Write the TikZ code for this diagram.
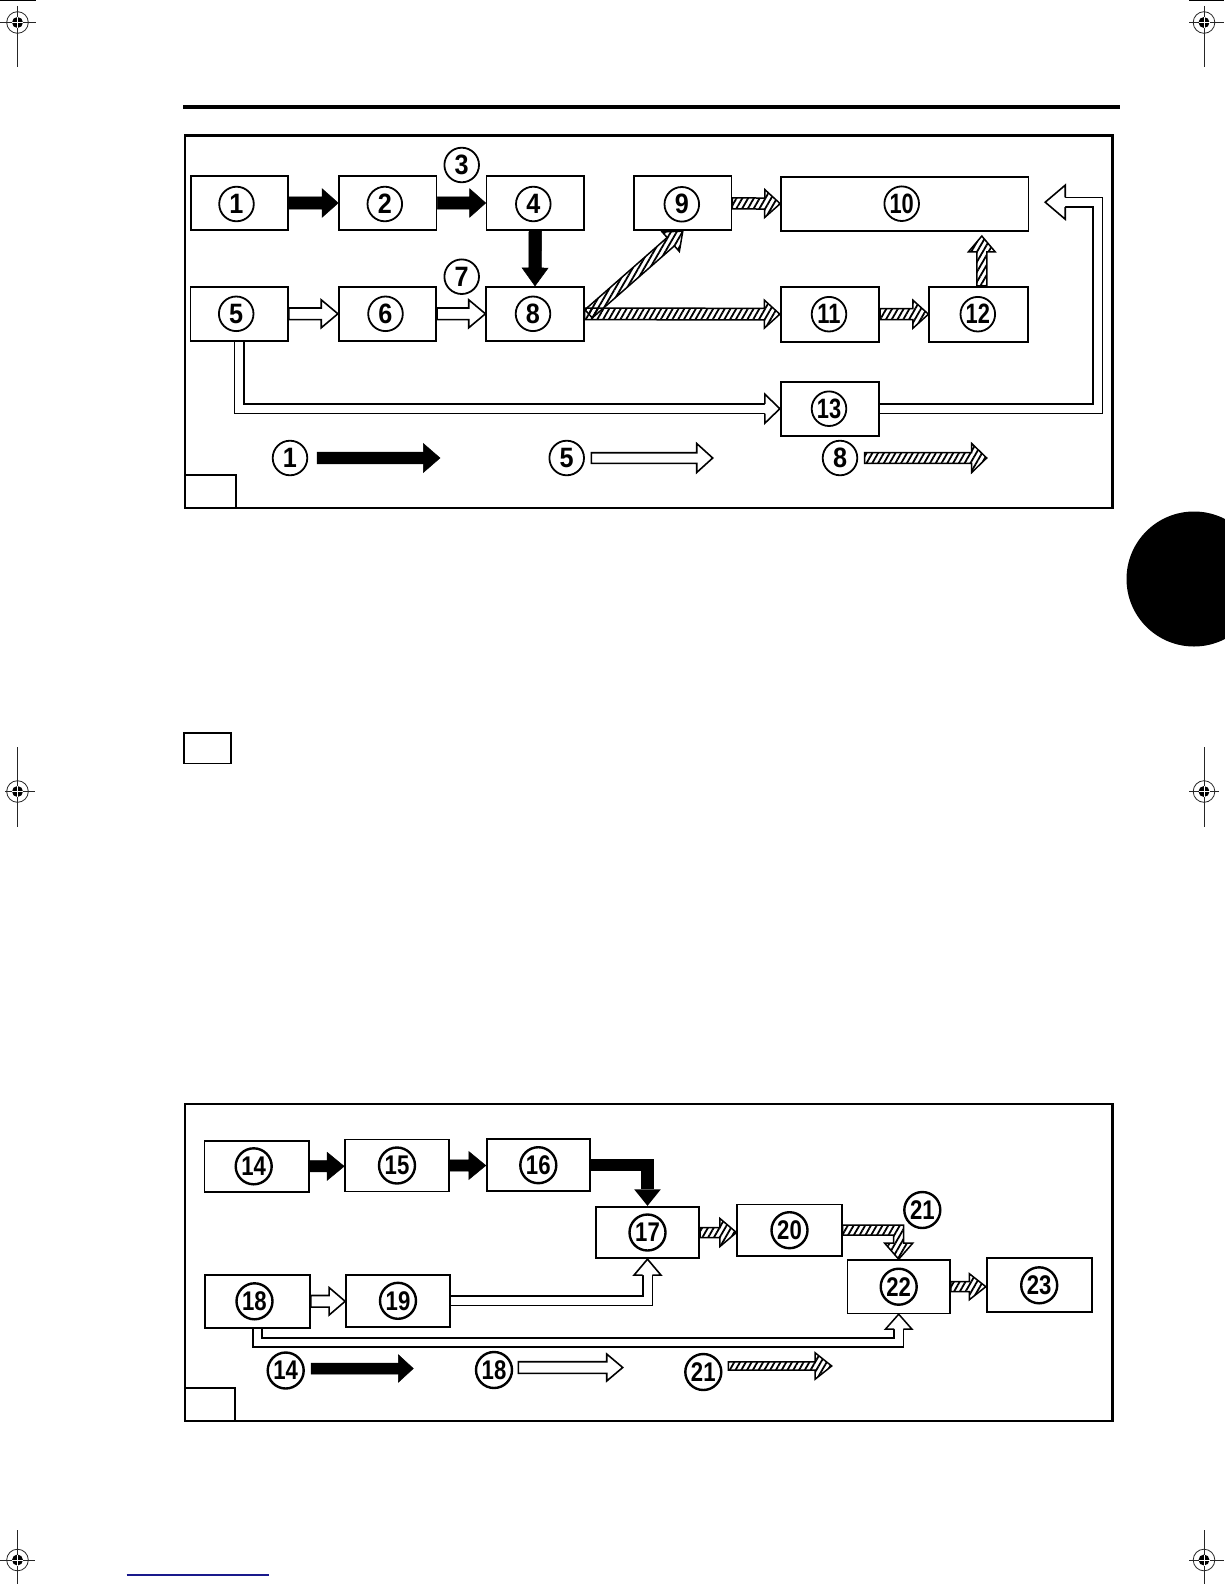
\documentclass[tikz,border=0pt]{standalone}
\usepackage{fontspec}
\setmainfont{Liberation Sans}
\usepackage{graphicx}
\usetikzlibrary{calc,patterns.meta}
\pgfdeclarelayer{bg}
\pgfsetlayers{bg,main}
\newcommand\onet[1]{\scalebox{0.9}[1]{#1}}
\newcommand\twod[1]{\scalebox{0.78}[1]{#1}}
\newcommand\twob[1]{\scalebox{0.82}[1]{#1}}
% straight block arrow: style, from, to, half shaft, half head, head length
\newcommand\barrow[6]{%
  \path[#1] let \p1=(#2), \p2=(#3),
    \n1={veclen(\x2-\x1,\y2-\y1)},
    \n2={(\x2-\x1)/\n1}, \n3={(\y2-\y1)/\n1}
  in ({\x1-(\n3)*#4}, {\y1+(\n2)*#4})
   -- ({\x2-(\n2)*#6-(\n3)*#4}, {\y2-(\n3)*#6+(\n2)*#4})
   -- ({\x2-(\n2)*#6-(\n3)*#5}, {\y2-(\n3)*#6+(\n2)*#5})
   -- (\p2)
   -- ({\x2-(\n2)*#6+(\n3)*#5}, {\y2-(\n3)*#6-(\n2)*#5})
   -- ({\x2-(\n2)*#6+(\n3)*#4}, {\y2-(\n3)*#6-(\n2)*#4})
   -- ({\x1+(\n3)*#4}, {\y1-(\n2)*#4}) -- cycle;}
% head coordinates: prefix, from (direction), tip, half shaft, half head, head length
\newcommand\mkhead[6]{%
  \path let \p1=(#2), \p2=(#3),
    \n1={veclen(\x2-\x1,\y2-\y1)},
    \n2={(\x2-\x1)/\n1}, \n3={(\y2-\y1)/\n1}
  in ({\x2-(\n2)*#6}, {\y2-(\n3)*#6}) coordinate (#1b)
     ({\x2-(\n2)*#6-(\n3)*#4}, {\y2-(\n3)*#6+(\n2)*#4}) coordinate (#1sp)
     ({\x2-(\n2)*#6-(\n3)*#5}, {\y2-(\n3)*#6+(\n2)*#5}) coordinate (#1hp)
     ({\x2-(\n2)*#6+(\n3)*#5}, {\y2-(\n3)*#6-(\n2)*#5}) coordinate (#1hm)
     ({\x2-(\n2)*#6+(\n3)*#4}, {\y2-(\n3)*#6-(\n2)*#4}) coordinate (#1sm);}
\newcommand\regm[6]{%
  \draw[line width=0.8pt, black!85] (#1,#3) -- (#1,#4);
  \draw[line width=0.8pt, black!85] (#5,#2) -- (#6,#2);
  \draw[line width=0.8pt, black!85] (#1,#2) circle (10.8pt);
  \fill (#1,#2) circle (5.5pt);
  \draw[white, line width=0.8pt] ({#1-5.5},#2) -- ({#1+5.5},#2) ({#1},{#2-5.5}) -- ({#1},{#2+5.5});}
\tikzset{
  box/.style={draw, line width=1.7pt, minimum width=97.5pt, minimum height=54pt, inner sep=0pt},
  bbox/.style={draw, line width=1.7pt, minimum width=104pt, minimum height=52pt, inner sep=0pt},
  numt/.style={circle, draw, line width=1.8pt, minimum size=34.6pt, inner sep=0pt, font=\fontsize{28}{28}\selectfont\bfseries},
  numb/.style={circle, draw, line width=2.4pt, minimum size=36pt, inner sep=0pt, font=\fontsize{27}{27}\selectfont\bfseries},
  blackarr/.style={fill=black, draw=black, line width=0.5pt, line join=miter},
  openarr/.style={fill=white, draw=black, line width=1.6pt, line join=miter},
  hatcharr/.style={pattern={Lines[angle=60,distance=5pt,line width=1.8pt]}, draw=black, line width=1.5pt, line join=miter},
  dbl/.style={draw=black, double=white, line width=1.6pt, double distance=8pt, line join=miter},
  headline/.style={draw=black, line width=1.6pt, line join=miter},
  frame/.style={draw=black, line width=2.7pt},
  thinframe/.style={draw=black, line width=1.7pt},
}
\begin{document}
\begin{tikzpicture}[x=1pt, y=-1pt]
\useasboundingbox (0,0) rectangle (1224,1584);
\begin{pgfonlayer}{bg}
\fill[white] (0,0) rectangle (1224,1584);
\end{pgfonlayer}

% registration marks
\regm{17.5}{22.5}{6}{67}{0}{36}
\regm{1204}{22.5}{6}{67}{1189}{1224}
\regm{17.5}{791.5}{747}{827}{5}{35}
\regm{1204}{791.5}{747}{827}{1189}{1219}
\regm{17.5}{1560}{1530}{1584}{0}{35}
\regm{1204}{1560}{1530}{1584}{1189}{1224}
\draw[line width=0.8pt] (0,0.8) -- (36,0.8);
\draw[line width=0.8pt] (1189,0.8) -- (1224,0.8);

% top rule and side tab
\fill (182.7,105) rectangle (1120,109);
\fill (1194,579) circle (67.5pt);
\draw[line width=2pt, draw={rgb,255:red,25;green,25;blue,140}] (126.7,1575) -- (269,1575);

% ===== top diagram =====
\draw[frame] (185,135.7) rectangle (1112.3,508);
\draw[thinframe] (185,475) -| (236,508);

\node[box] (b1) at (239.5,203) {};
\node[box] (b2) at (387.8,203) {};
\node[box] (b4) at (535.3,203) {};
\node[box] (b9) at (682.8,203.3) {};
\node[box, minimum width=247.3pt] (b10) at (904.7,203.7) {};
\node[box] (b5) at (239.2,313.8) {};
\node[box] (b6) at (387.5,313.8) {};
\node[box] (b8) at (535,313.8) {};
\node[box, minimum width=98.6pt, minimum height=55pt] (b11) at (830,314.2) {};
\node[box, minimum width=99pt, minimum height=55pt] (b12) at (978.8,314.2) {};
\node[box, minimum width=98.6pt] (b13) at (830,408.7) {};

\node[numt] (n1) at ($(b1)+(-3,1)$) {\onet{1}};
\node[numt] (n2) at ($(b2)+(-3,1)$) {\onet{2}};
\node[numt] (n3) at (461.7,165) {\onet{3}};
\node[numt] (n4) at ($(b4)+(-2,1)$) {\onet{4}};
\node[numt] (n5) at ($(b5)+(-3,0)$) {\onet{5}};
\node[numt] (n6) at ($(b6)+(-2,0)$) {\onet{6}};
\node[numt] (n7) at (461.7,276.7) {\onet{7}};
\node[numt] (n8) at ($(b8)+(-2,0)$) {\onet{8}};
\node[numt] (n9) at ($(b9)+(-1,1)$) {\onet{9}};
\node[numt] (n10) at ($(b10)+(-3,0)$) {\twod{10}};
\node[numt] (n11) at ($(b11)+(-1,0)$) {\twod{11}};
\node[numt] (n12) at ($(b12)+(-1,0)$) {\twod{12}};
\node[numt] (n13) at ($(b13)+(-1,0)$) {\twod{13}};

\node[numt] (k1) at (290,458) {\onet{1}};
\node[numt] (k5) at (566.7,458) {\onet{5}};
\node[numt] (k8) at (840,458) {\onet{8}};
\coordinate (k1a) at ($(k1.east)+(9,0)$);
\coordinate (k1b) at (440,458);
\coordinate (k5a) at ($(k5.east)+(6.5,0)$);
\coordinate (k5b) at (712.7,458);
\coordinate (k8a) at ($(k8.east)+(6.5,0)$);
\coordinate (k8b) at (986.7,458);

\coordinate (d8s) at ($(b8.east)+(4,0)$);
\coordinate (v12s) at ($(b12.north)+(3,0)$);
\coordinate (v12e) at ($(b12.north |- b10.south)+(3,4.5)$);
\coordinate (c5) at (b5.south |- b13.west);
\coordinate (rt) at ($(b13.east)+(217.5,0)$);
\coordinate (t10) at ($(b10.east)+(16,-1.5)$);
\coordinate (c10) at (rt |- t10);

\begin{pgfonlayer}{bg}
\barrow{blackarr}{b1.east}{b2.west}{6.2pt}{14.2pt}{16pt}
\barrow{blackarr}{b2.east}{b4.west}{6.2pt}{14.2pt}{16pt}
\barrow{blackarr}{b4.south}{b8.north}{6.3pt}{13pt}{18pt}
\barrow{openarr}{b5.east}{b6.west}{5.8pt}{14pt}{16.7pt}
\barrow{openarr}{b6.east}{b8.west}{5.8pt}{14pt}{16.7pt}
\barrow{hatcharr}{d8s}{b9.south}{5.5pt}{13pt}{16pt}
\barrow{hatcharr}{b8.east}{b11.west}{5.8pt}{14pt}{15.5pt}
\barrow{hatcharr}{b9.east}{b10.west}{5.5pt}{14pt}{15.5pt}
\barrow{hatcharr}{b11.east}{b12.west}{5.5pt}{14pt}{15.5pt}
\barrow{hatcharr}{v12s}{v12e}{5pt}{13.3pt}{15.7pt}
% 5 -> 13
\mkhead{h13}{c5}{b13.west}{4.8pt}{14.5pt}{15pt}
\draw[dbl] (b5.south) -- (c5) -- (h13b);
\fill[white] (h13hp) -- (b13.west) -- (h13hm) -- cycle;
\draw[headline] (h13sp) -- (h13hp) -- (b13.west) -- (h13hm) -- (h13sm);
% 13 -> 10
\mkhead{h10}{c10}{t10}{4.8pt}{17pt}{20pt}
\draw[dbl] (b13.east) -- (rt) -- (c10) -- (h10b);
\fill[white] (h10hp) -- (t10) -- (h10hm) -- cycle;
\draw[headline] (h10sp) -- (h10hp) -- (t10) -- (h10hm) -- (h10sm);
% legend
\barrow{blackarr}{k1a}{k1b}{5.8pt}{14.5pt}{16.7pt}
\barrow{openarr}{k5a}{k5b}{5.3pt}{14.5pt}{16pt}
\barrow{hatcharr}{k8a}{k8b}{5.3pt}{14.5pt}{15pt}
\end{pgfonlayer}

% ===== middle small square =====
\draw[thinframe] (183.8,733.2) rectangle (231.3,763.5);

% ===== bottom diagram =====
\draw[frame] (185,1104) rectangle (1112.3,1421);
\draw[thinframe] (185,1388.3) -| (235,1421);

\node[bbox, minimum width=104.7pt, minimum height=51.3pt] (b14) at (256.7,1166.3) {};
\node[bbox] (b15) at (397,1165.5) {};
\node[bbox, minimum width=103.3pt] (b16) at (538.3,1165.2) {};
\node[bbox, minimum width=103.6pt, minimum height=51.6pt] (b17) at (647.5,1232.5) {};
\node[bbox, minimum width=104.4pt, minimum height=51.7pt] (b20) at (789.5,1230.2) {};
\node[bbox, minimum width=102.7pt, minimum height=53.3pt] (b22) at (898.7,1286.7) {};
\node[bbox, minimum width=105pt, minimum height=54pt] (b23) at (1039.2,1285.3) {};
\node[bbox, minimum width=105pt, minimum height=52.7pt] (b18) at (257.5,1301.3) {};
\node[bbox, minimum height=51.7pt] (b19) at (398,1300.8) {};

\node[numb] (n14) at ($(b14)+(-3,0)$) {\twob{14}};
\node[numb] (n15) at (b15) {\twob{15}};
\node[numb] (n16) at (b16) {\twob{16}};
\node[numb] (n17) at (b17) {\twob{17}};
\node[numb] (n20) at (b20) {\twob{20}};
\node[numb] (n21) at (922.3,1210) {\twob{21}};
\node[numb] (n22) at (b22) {\twob{22}};
\node[numb] (n23) at (b23) {\twob{23}};
\node[numb] (n18) at ($(b18)+(-3,0)$) {\twob{18}};
\node[numb] (n19) at (b19) {\twob{19}};

\node[numb] (k14) at (285.7,1370.5) {\twob{14}};
\node[numb] (k18) at (494,1370) {\twob{18}};
\node[numb] (k21) at (703.3,1372) {\twob{21}};
\coordinate (k14a) at (311,1368.5);
\coordinate (k14b) at (413.3,1368.5);
\coordinate (k18a) at (518.3,1367.5);
\coordinate (k18b) at (622.7,1367.5);
\coordinate (k21a) at (728.3,1366);
\coordinate (k21b) at (831.7,1366);

\coordinate (c16) at (b17.north |- b16.east);
\coordinate (c19) at (b17.south |- b19.east);
\coordinate (c18) at ($(b18.south)+(0,14)$);
\coordinate (c22) at (b22.south |- c18);
\coordinate (c20) at (b22.north |- b20.east);

\begin{pgfonlayer}{bg}
\barrow{blackarr}{b14.east}{b14.east -| b15.west}{5.6pt}{14pt}{17pt}
\barrow{blackarr}{b15.east}{b15.east -| b16.west}{5.6pt}{14pt}{17pt}
% 16 -> 17
\mkhead{h17}{c16}{b17.north}{6.2pt}{13.3pt}{16.5pt}
\draw[line width=12.4pt, line join=miter] (b16.east) -- (c16) -- (h17b);
\fill (h17hp) -- (b17.north) -- (h17hm) -- cycle;
% 18 -> 19
\barrow{openarr}{b18.east}{b18.east -| b19.west}{5.8pt}{13.7pt}{16pt}
% 19 -> 17
\mkhead{h17s}{c19}{b17.south}{4.8pt}{13.5pt}{16pt}
\draw[dbl] (b19.east) -- (c19) -- (h17sb);
\fill[white] (h17shp) -- (b17.south) -- (h17shm) -- cycle;
\draw[headline] (h17ssp) -- (h17shp) -- (b17.south) -- (h17shm) -- (h17ssm);
% 18 -> 22
\mkhead{h22}{c22}{b22.south}{4.6pt}{13.3pt}{15pt}
\draw[dbl, line width=1.5pt, double distance=7.6pt] (b18.south) -- (c18) -- (c22) -- (h22b);
\fill[white] (h22hp) -- (b22.south) -- (h22hm) -- cycle;
\draw[headline, line width=1.5pt] (h22sp) -- (h22hp) -- (b22.south) -- (h22hm) -- (h22sm);
% 17 -> 20
\barrow{hatcharr}{b17.east}{b17.east -| b20.west}{5pt}{14pt}{16.5pt}
% 20 -> 22
\path[hatcharr] ($(b20.east)+(0,-5)$) -- ($(c20)+(5,-5)$) -- ($(b22.north)+(5,-16)$)
  -- ($(b22.north)+(14,-16)$) -- (b22.north) -- ($(b22.north)+(-14,-16)$)
  -- ($(b22.north)+(-5,-16)$) -- ($(c20)+(-5,5)$) -- ($(b20.east)+(0,5)$) -- cycle;
% 22 -> 23
\barrow{hatcharr}{b22.east}{b22.east -| b23.west}{5pt}{13pt}{16.5pt}
% legend
\barrow{blackarr}{k14a}{k14b}{5.5pt}{13.8pt}{15pt}
\barrow{openarr}{k18a}{k18b}{5.8pt}{13.5pt}{16pt}
\barrow{hatcharr}{k21a}{k21b}{4.2pt}{13.3pt}{16.7pt}
\end{pgfonlayer}
\end{tikzpicture}
\end{document}
